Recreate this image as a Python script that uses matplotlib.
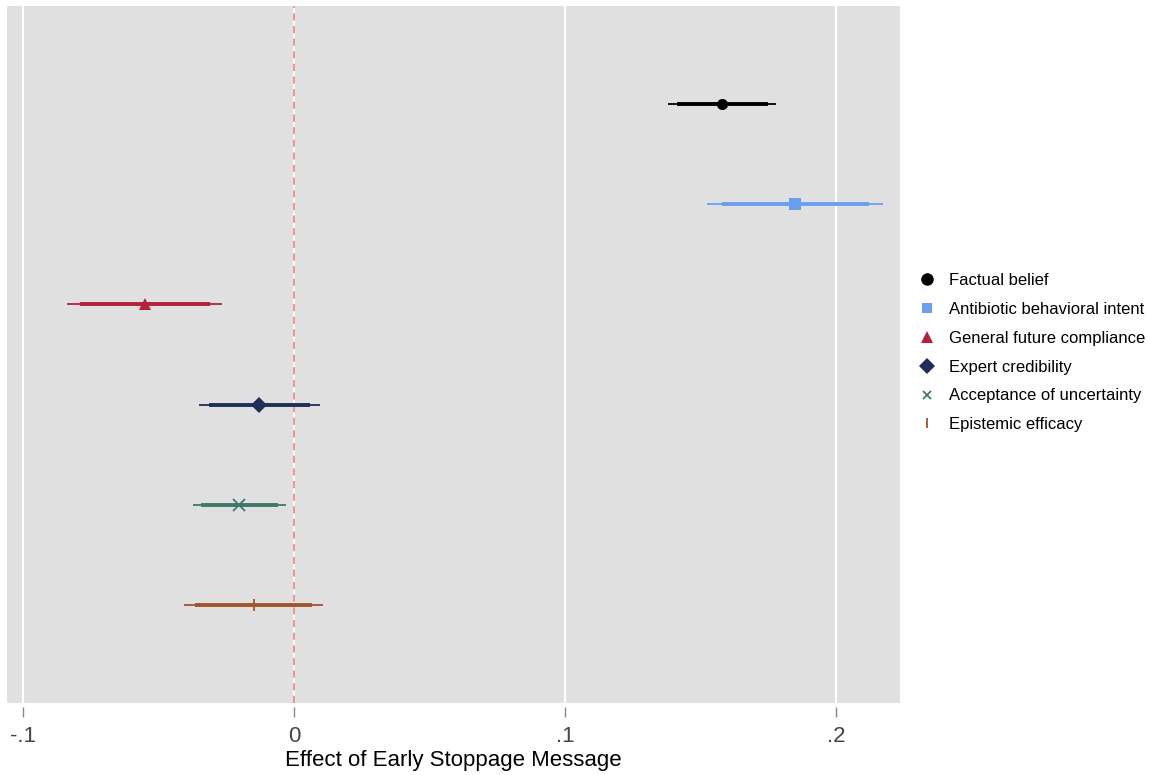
import numpy as np
import matplotlib.pyplot as plt
from matplotlib.lines import Line2D

plt.rcParams['font.family'] = ['Liberation Sans', 'DejaVu Sans']

outcomes = ['Factual belief', 'Antibiotic behavioral intent', 'General future compliance',
            'Expert credibility', 'Acceptance of uncertainty', 'Epistemic efficacy']
coef = [0.158, 0.185, -0.055, -0.0128, -0.0202, -0.0148]
ci95_lo = [0.138, 0.1525, -0.0837, -0.0352, -0.0374, -0.0406]
ci95_hi = [0.178, 0.2172, -0.0265, 0.0096, -0.0030, 0.0108]
ci90_lo = [0.1413, 0.1578, -0.0790, -0.0315, -0.0344, -0.0364]
ci90_hi = [0.1749, 0.2121, -0.0310, 0.0059, -0.0058, 0.0066]

colors = ['#000000', '#6a9ff0', '#b5213a', '#1f2f55', '#3e7a6c', '#a0552d']
markers = ['o', 's', '^', 'D', 'x', '|']
msizes = [8, 8.5, 9, 8, 8, 8]
leg_sizes = [9, 7.5, 9, 8.5, 6, 6.5]

xticks = [-0.1, 0, 0.1, 0.2]
xticklabels = ['-.1', '0', '.1', '.2']

fig = plt.figure(figsize=(11.49, 7.75), dpi=100)
ax = fig.add_axes([0.0061, 0.0929, 0.7772, 0.8994])
ax.set_facecolor('#e0e0e0')
# push tick marks a little below the plot area (must come before tick styling)
ax.spines['bottom'].set_position(('outward', 3))
for s in ax.spines.values():
    s.set_visible(False)

for x in xticks:
    ax.axvline(x, color='white', lw=1.5, zorder=1)
ax.axvline(0, color='#f08a80', lw=1.3, ls=(0, (4, 3)), zorder=2)

y = np.arange(1, len(outcomes) + 1)
handles = []
for i in range(len(outcomes)):
    ax.plot([ci95_lo[i], ci95_hi[i]], [y[i], y[i]], color=colors[i], lw=1.3, zorder=3,
            solid_capstyle='butt')
    ax.plot([ci90_lo[i], ci90_hi[i]], [y[i], y[i]], color=colors[i], lw=2.8, zorder=3,
            solid_capstyle='butt')
    mew = 1.3 if markers[i] in ('x', '|') else 0
    ax.plot(coef[i], y[i], marker=markers[i], color=colors[i], ms=msizes[i],
            mew=mew, ls='none', zorder=4)
    h = Line2D([], [], marker=markers[i], color=colors[i], ls='none',
               ms=leg_sizes[i], mew=1.3 if mew else 0)
    handles.append(h)

ax.set_xlim(-0.1059, 0.2236)
ax.set_ylim(6.98, 0.02)
ax.set_yticks([])
ax.set_xticks(xticks)
ax.set_xticklabels(xticklabels, fontsize=16, color='#444444')
ax.tick_params(axis='x', length=7.2, width=1, color='#888888', pad=6.5, direction='out')
ax.set_xlabel('Effect of Early Stoppage Message', fontsize=16, labelpad=2)

fig.legend(handles, outcomes, loc='center left', bbox_to_anchor=(0.792, 0.545),
           frameon=False, fontsize=12, handlelength=1.0, handletextpad=0.82,
           labelspacing=0.83, borderpad=0)

fig.savefig('out.png', dpi=100)
